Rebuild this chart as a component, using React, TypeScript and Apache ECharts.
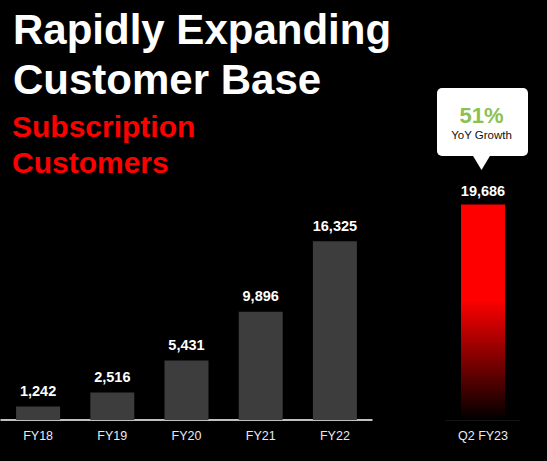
import React, { useEffect, useRef } from "react";
import * as echarts from "echarts";

const categories = ["FY18", "FY19", "FY20", "FY21", "FY22"];
const customers = [1242, 2516, 5431, 9896, 16325];
const latestCategory = ["Q2 FY23"];
const latestCustomers = [19686];
const yoyGrowthPct = [51];
const yoyLabel = ["YoY Growth"];
const titleLines = ["Rapidly Expanding", "Customer Base"];
const subtitleLines = ["Subscription", "Customers"];

const Y_MAX = 20000;
const FONT = '"Liberation Sans", Arial, Helvetica, sans-serif';

const fmt = (v: number) => v.toLocaleString("en-US");

export default function App() {
  const ref = useRef<HTMLDivElement | null>(null);

  useEffect(() => {
    if (!ref.current) return;
    const chart = echarts.init(ref.current, undefined, { renderer: "svg" });

    const valueLabel = {
      show: true,
      position: "top" as const,
      distance: 8,
      color: "#ffffff",
      fontFamily: FONT,
      fontWeight: "bold" as const,
      fontSize: 14.5,
      formatter: (p: any) => fmt(p.value),
    };

    const axisLabel = {
      color: "#e8ecf0",
      fontFamily: FONT,
      fontSize: 12.5,
      margin: 9,
    };

    chart.setOption({
      animation: false,
      backgroundColor: "#000000",
      grid: [
        { left: 1, width: 371, top: 201, bottom: 41 },
        { left: 446, width: 74, top: 201, bottom: 41 },
      ],
      xAxis: [
        {
          type: "category",
          gridIndex: 0,
          data: categories,
          axisLine: { show: true, lineStyle: { color: "#ffffff", width: 1.5 } },
          axisTick: { show: false },
          axisLabel,
        },
        {
          type: "category",
          gridIndex: 1,
          data: latestCategory,
          axisLine: { show: true, lineStyle: { color: "#141414", width: 1 } },
          axisTick: { show: false },
          axisLabel,
        },
      ],
      yAxis: [
        { type: "value", gridIndex: 0, min: 0, max: Y_MAX, show: false, splitLine: { show: false } },
        { type: "value", gridIndex: 1, min: 0, max: Y_MAX, show: false, splitLine: { show: false } },
      ],
      series: [
        {
          type: "bar",
          xAxisIndex: 0,
          yAxisIndex: 0,
          data: customers,
          barWidth: 44,
          itemStyle: { color: "#3d3d3d" },
          label: valueLabel,
        },
        {
          type: "bar",
          xAxisIndex: 1,
          yAxisIndex: 1,
          data: latestCustomers,
          barWidth: 44,
          itemStyle: {
            color: new echarts.graphic.LinearGradient(0, 0, 0, 1, [
              { offset: 0, color: "#ff0000" },
              { offset: 0.44, color: "#ff0000" },
              { offset: 1, color: "#000000" },
            ]),
          },
          label: { ...valueLabel, distance: 6 },
        },
      ],
      graphic: [
        {
          type: "text",
          x: 13,
          y: 29,
          style: {
            text: titleLines[0],
            fill: "#ffffff",
            font: `bold 42px ${FONT}`,
            verticalAlign: "middle",
          },
        },
        {
          type: "text",
          x: 13,
          y: 79,
          style: {
            text: titleLines[1],
            fill: "#ffffff",
            font: `bold 42px ${FONT}`,
            verticalAlign: "middle",
          },
        },
        {
          type: "text",
          x: 12,
          y: 126,
          style: {
            text: subtitleLines[0],
            fill: "#ff0000",
            font: `bold 30px ${FONT}`,
            verticalAlign: "middle",
          },
        },
        {
          type: "text",
          x: 12,
          y: 162.5,
          style: {
            text: subtitleLines[1],
            fill: "#ff0000",
            font: `bold 30px ${FONT}`,
            verticalAlign: "middle",
          },
        },
        {
          type: "rect",
          shape: { x: 437, y: 88, width: 91, height: 68, r: 5 },
          style: { fill: "#ffffff" },
        },
        {
          type: "polygon",
          shape: { points: [[472.5, 155], [490.5, 155], [481.5, 170]] },
          style: { fill: "#ffffff" },
        },
        {
          type: "text",
          x: 481.5,
          y: 115,
          style: {
            text: `${yoyGrowthPct[0]}%`,
            fill: "#8cc152",
            font: `bold 22px ${FONT}`,
            align: "center",
            verticalAlign: "middle",
          },
        },
        {
          type: "text",
          x: 481.5,
          y: 135,
          style: {
            text: yoyLabel[0],
            fill: "#111111",
            font: `11.5px ${FONT}`,
            align: "center",
            verticalAlign: "middle",
          },
        },
      ],
    });

    return () => chart.dispose();
  }, []);

  return (
    <div
      ref={ref}
      style={{ position: "fixed", left: 0, top: 0, width: 547, height: 461, background: "#000" }}
    />
  );
}
